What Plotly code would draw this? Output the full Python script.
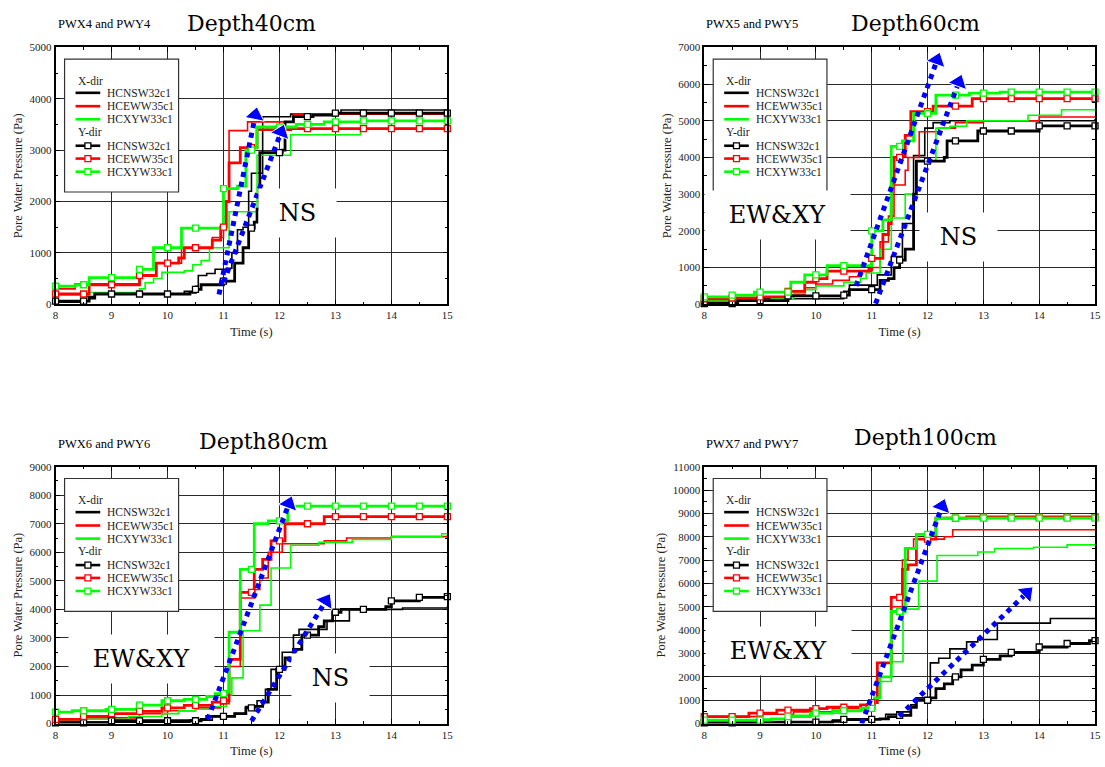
import numpy as np
import plotly.graph_objects as go

# ---------------- chart text / categories ----------------
panel_codes = ["PWX4 and PWY4", "PWX5 and PWY5", "PWX6 and PWY6", "PWX7 and PWY7"]
panel_depths = ["Depth40cm", "Depth60cm", "Depth80cm", "Depth100cm"]
pressure_max = [5000, 7000, 9000, 11000]
series_labels = ["HCNSW32c1", "HCEWW35c1", "HCXYW33c1"]
dir_labels = ["X-dir", "Y-dir"]
marker_times = [8.0, 8.5, 9.0, 9.5, 10.0, 10.5, 11.0, 11.5, 12.0, 12.5, 13.0, 13.5, 14.0, 14.5, 15.0]

# ---------------- Depth 40 cm ----------------
d40_x_ns_t = [8, 8.55, 8.7, 10.3, 10.5, 10.55, 10.7, 10.85, 11.05, 11.15, 11.25, 11.35, 11.45, 11.5, 11.7, 12.2, 13.1, 15]
d40_x_ns_p = [40, 150, 200, 250, 350, 560, 600, 680, 700, 1000, 1450, 1500, 2200, 2550, 3650, 3700, 3780, 3780]
d40_x_ew_t = [8, 8.35, 9.5, 9.8, 10.25, 10.8, 10.95, 11.0, 11.05, 11.1, 11.43, 12.25, 15]
d40_x_ew_p = [300, 400, 560, 800, 1100, 1300, 1300, 1700, 2000, 3380, 3550, 3700, 3750]
d40_x_xy_t = [8, 8.6, 9.5, 9.6, 9.75, 9.9, 10.3, 10.45, 10.6, 10.75, 11.1, 11.6, 12.2, 13.45, 15]
d40_x_xy_p = [180, 230, 300, 420, 500, 620, 650, 770, 850, 1100, 1800, 2900, 3300, 3420, 3420]
d40_y_ns_t = [8, 8.6, 8.7, 10.4, 10.5, 10.6, 11.0, 11.2, 11.35, 11.45, 11.55, 11.6, 11.65, 12.05, 12.1, 12.25, 12.6, 13.0, 15]
d40_y_ns_p = [60, 120, 200, 230, 290, 380, 450, 800, 1100, 1480, 1600, 1850, 2950, 3000, 3550, 3650, 3680, 3720, 3720]
d40_y_ew_t = [8, 8.6, 9.5, 9.8, 10.2, 10.3, 10.8, 10.95, 11.05, 11.1, 11.3, 11.6, 12.2, 15]
d40_y_ew_p = [200, 380, 560, 800, 900, 1100, 1250, 1500, 2000, 2750, 3050, 3400, 3420, 3420]
d40_y_xy_t = [8, 8.35, 8.6, 9.5, 9.75, 10.25, 11.0, 11.25, 11.4, 11.55, 11.6, 12.3, 12.8, 13.5, 15]
d40_y_xy_p = [350, 380, 520, 680, 1100, 1480, 2250, 2300, 3000, 3050, 3450, 3500, 3550, 3570, 3570]

# ---------------- Depth 60 cm ----------------
d60_x_ns_t = [8, 8.6, 10.5, 10.6, 11.1, 11.35, 11.55, 11.75, 11.95, 12.1, 12.4, 15]
d60_x_ns_p = [50, 150, 350, 520, 800, 1300, 2200, 4050, 4800, 4950, 5000, 5050]
d60_x_ew_t = [8, 9.5, 9.8, 10.0, 10.3, 10.6, 10.8, 11.0, 11.15, 11.3, 11.4, 11.6, 11.65, 11.85, 12.2, 12.5, 13.0, 14.0, 15]
d60_x_ew_p = [100, 250, 450, 550, 650, 750, 900, 1000, 1700, 2400, 3250, 3650, 4000, 4700, 4800, 4950, 5000, 5100, 5100]
d60_x_xy_t = [8, 9.2, 9.6, 9.8, 10.0, 10.5, 10.8, 10.9, 11.15, 11.35, 11.6, 11.8, 12.15, 12.4, 12.7, 13.8, 14.4, 15]
d60_x_xy_p = [100, 150, 300, 400, 500, 600, 700, 850, 1500, 2350, 3000, 3900, 4800, 4850, 5000, 5150, 5300, 5300]
d60_y_ns_t = [8, 8.6, 9.5, 10.5, 10.6, 11.15, 11.3, 11.4, 11.5, 11.6, 11.75, 11.8, 12.3, 12.35, 12.9, 14.0, 15]
d60_y_ns_p = [20, 100, 230, 250, 400, 650, 700, 1000, 1200, 1500, 3000, 3900, 4000, 4450, 4720, 4860, 4860]
d60_y_ew_t = [8, 8.5, 9.0, 9.5, 9.8, 10.0, 10.2, 10.95, 11.0, 11.2, 11.3, 11.35, 11.4, 11.55, 11.6, 11.7, 12.1, 12.8, 15]
d60_y_ew_p = [150, 170, 200, 350, 600, 700, 900, 950, 1250, 1900, 2200, 3300, 4000, 4050, 4600, 5250, 5400, 5600, 5600]
d60_y_xy_t = [8, 8.5, 8.9, 9.55, 9.8, 10.2, 11.0, 11.2, 11.35, 11.55, 11.75, 12.15, 12.75, 13.3, 15]
d60_y_xy_p = [200, 250, 330, 600, 800, 1050, 2000, 2300, 4300, 4450, 5200, 5700, 5750, 5780, 5780]

# ---------------- Depth 80 cm ----------------
d80_x_ns_t = [8, 10.4, 10.8, 11.2, 11.4, 11.6, 11.75, 11.85, 12.05, 12.25, 12.35, 12.85, 13.25, 14.2, 15]
d80_x_ns_p = [50, 120, 250, 350, 600, 800, 1200, 1900, 2500, 3100, 3300, 3600, 4000, 4050, 4100]
d80_x_ew_t = [8, 8.5, 9.5, 10.0, 10.5, 10.95, 11.1, 11.3, 11.55, 11.65, 11.8, 12.05, 12.8, 13.2, 14.0, 15]
d80_x_ew_p = [100, 200, 350, 450, 550, 700, 2000, 4400, 4700, 5100, 6000, 6300, 6400, 6500, 6550, 6600]
d80_x_xy_t = [8, 8.5, 9.3, 9.9, 10.2, 10.5, 10.8, 11.05, 11.15, 11.35, 11.65, 11.85, 12.2, 12.7, 13.3, 14.0, 14.9, 15]
d80_x_xy_p = [100, 150, 250, 350, 450, 500, 600, 1000, 1600, 3250, 4150, 5450, 6250, 6350, 6450, 6550, 6650, 6650]
d80_y_ns_t = [8, 9.0, 10.6, 10.7, 11.2, 11.4, 11.55, 11.7, 11.8, 11.95, 12.1, 12.25, 12.4, 12.7, 12.8, 12.95, 13.1, 13.9, 14.0, 14.5, 15]
d80_y_ns_p = [30, 100, 150, 250, 350, 550, 600, 750, 1200, 1900, 2300, 2600, 3100, 3400, 3600, 3900, 4000, 4100, 4300, 4420, 4450]
d80_y_ew_t = [8, 8.5, 9.0, 9.5, 9.9, 10.3, 10.8, 11.0, 11.1, 11.3, 11.55, 11.7, 11.85, 12.1, 12.8, 15]
d80_y_ew_p = [150, 250, 350, 430, 550, 640, 750, 800, 2250, 4600, 5400, 5750, 6400, 7000, 7250, 7250]
d80_y_xy_t = [8, 8.3, 8.9, 9.5, 9.9, 10.3, 10.7, 10.85, 11.05, 11.1, 11.3, 11.55, 11.8, 12.15, 15]
d80_y_xy_p = [400, 450, 500, 650, 800, 850, 950, 1050, 1100, 3200, 5400, 7000, 7100, 7620, 7620]

# ---------------- Depth 100 cm ----------------
d100_x_ns_t = [8, 10.3, 11.0, 11.25, 11.45, 11.7, 11.8, 12.05, 12.2, 12.4, 12.7, 12.9, 13.25, 14.2, 15]
d100_x_ns_p = [50, 150, 200, 400, 500, 800, 1100, 2600, 2800, 3200, 3500, 3600, 4300, 4500, 4500]
d100_x_ew_t = [8, 9.0, 9.6, 10.3, 10.9, 11.0, 11.1, 11.35, 11.55, 11.65, 11.75, 12.3, 12.45, 15]
d100_x_ew_p = [300, 400, 500, 650, 800, 900, 2600, 5000, 7000, 7500, 7900, 8000, 8300, 8300]
d100_x_xy_t = [8, 9.0, 9.5, 10.0, 10.5, 10.9, 11.05, 11.1, 11.35, 11.56, 11.84, 12.17, 12.9, 13.2, 13.9, 14.5, 15]
d100_x_xy_p = [100, 200, 350, 450, 550, 700, 900, 1800, 2650, 4900, 6100, 7200, 7350, 7500, 7550, 7650, 7700]
d100_y_ns_t = [8, 9.0, 10.3, 10.5, 11.15, 11.3, 11.5, 11.7, 11.8, 12.05, 12.15, 12.3, 12.45, 12.6, 12.8, 13.0, 13.3, 13.5, 14.0, 14.5, 14.9, 15]
d100_y_ns_p = [30, 60, 100, 180, 200, 300, 350, 700, 1000, 1100, 1500, 1700, 2000, 2300, 2500, 2750, 2900, 3050, 3280, 3430, 3550, 3550]
d100_y_ew_t = [8, 8.8, 9.3, 9.9, 10.2, 10.8, 11.0, 11.1, 11.35, 11.55, 11.65, 11.8, 12.15, 12.7, 15]
d100_y_ew_p = [300, 450, 580, 640, 700, 800, 900, 2600, 5400, 6600, 6800, 7900, 8800, 8850, 8850]
d100_y_xy_t = [8, 9.2, 9.5, 9.9, 10.3, 10.8, 11.05, 11.15, 11.35, 11.6, 11.8, 12.15, 15]
d100_y_xy_p = [150, 200, 300, 450, 550, 650, 1100, 2000, 4800, 7500, 8100, 8800, 8800]

# ---------------- trend arrows (t0, p0, t1, p1) ----------------
d40_arrows = [(10.92, 190, 11.57, 3680), (11.0, 430, 12.03, 3350)]
d60_arrows = [(10.72, 500, 12.17, 6650), (11.07, 20, 12.56, 6050)]
d80_arrows = [(10.72, 150, 12.17, 7700), (11.5, 90, 12.83, 4300)]
d100_arrows = [(10.82, 0, 12.26, 9300), (11.49, 320, 13.78, 5600)]

# ---------------- annotation labels (text, t, p) ----------------
d40_labels = [("NS", 12.33, 1780)]
d60_labels = [("EW&XY", 9.31, 2440), ("NS", 12.56, 1820)]
d80_labels = [("EW&XY", 9.53, 2280), ("NS", 12.92, 1590)]
d100_labels = [("EW&XY", 9.33, 3120)]

# ---------------- styling ----------------
W, H = 1105, 767
COLORS = ["#000000", "#ff0000", "#00ff00"]
SERIF = "Liberation Serif"
BIG = "DejaVu Serif"

panels = [
    dict(x=[d40_x_ns_t, d40_x_ew_t, d40_x_xy_t], xp=[d40_x_ns_p, d40_x_ew_p, d40_x_xy_p],
         y=[d40_y_ns_t, d40_y_ew_t, d40_y_xy_t], yp=[d40_y_ns_p, d40_y_ew_p, d40_y_xy_p],
         arrows=d40_arrows, labels=d40_labels),
    dict(x=[d60_x_ns_t, d60_x_ew_t, d60_x_xy_t], xp=[d60_x_ns_p, d60_x_ew_p, d60_x_xy_p],
         y=[d60_y_ns_t, d60_y_ew_t, d60_y_xy_t], yp=[d60_y_ns_p, d60_y_ew_p, d60_y_xy_p],
         arrows=d60_arrows, labels=d60_labels),
    dict(x=[d80_x_ns_t, d80_x_ew_t, d80_x_xy_t], xp=[d80_x_ns_p, d80_x_ew_p, d80_x_xy_p],
         y=[d80_y_ns_t, d80_y_ew_t, d80_y_xy_t], yp=[d80_y_ns_p, d80_y_ew_p, d80_y_xy_p],
         arrows=d80_arrows, labels=d80_labels),
    dict(x=[d100_x_ns_t, d100_x_ew_t, d100_x_xy_t], xp=[d100_x_ns_p, d100_x_ew_p, d100_x_xy_p],
         y=[d100_y_ns_t, d100_y_ew_t, d100_y_xy_t], yp=[d100_y_ns_p, d100_y_ew_p, d100_y_xy_p],
         arrows=d100_arrows, labels=d100_labels),
]

# pixel layout of the four plot areas (left, right, top, bottom)
areas = [(53, 448, 42, 303), (707, 1101, 42, 303), (53, 448, 468, 729), (707, 1101, 468, 729)]
code_pos = [(53, 18), (707, 18), (53, 445), (707, 445)]
depth_pos = [(183, 18), (853, 18), (196, 442), (856, 438)]


def step_value(ts, ps, t):
    i = np.searchsorted(np.asarray(ts, float), t, side="right") - 1
    return ps[max(i, 0)]


fig = go.Figure()
layout = dict(width=W, height=H, margin=dict(l=0, r=0, t=0, b=0),
              paper_bgcolor="white", plot_bgcolor="white", showlegend=False,
              font=dict(family=SERIF))
annotations = []
shapes = []

for k, pan in enumerate(panels):
    sfx = "" if k == 0 else str(k + 1)
    xa, ya = "x" + sfx, "y" + sfx
    l, r, t, b = areas[k]
    layout["xaxis" + sfx] = dict(
        domain=[l / W, r / W], anchor=ya, range=[8, 15], tick0=8, dtick=1,
        showgrid=True, gridcolor="#2a2a2a", gridwidth=1, zeroline=False,
        showline=True, linecolor="black", linewidth=1.5, mirror="ticks",
        ticks="inside", ticklen=5, tickcolor="black",
        minor=dict(dtick=0.5, ticklen=3, tickcolor="black", ticks="inside", showgrid=False),
        tickfont=dict(family=SERIF, size=11, color="#222"),
        title=dict(text="Time (s)", font=dict(family=SERIF, size=12.5, color="#222"), standoff=7),
    )
    layout["yaxis" + sfx] = dict(
        domain=[1 - b / H, 1 - t / H], anchor=xa, range=[0, pressure_max[k]], tick0=0, dtick=1000,
        tickformat="d",
        showgrid=True, gridcolor="#2a2a2a", gridwidth=1, zeroline=False,
        showline=True, linecolor="black", linewidth=1.5, mirror="ticks",
        ticks="inside", ticklen=5, tickcolor="black",
        minor=dict(dtick=500, ticklen=3, tickcolor="black", ticks="inside", showgrid=False),
        tickfont=dict(family=SERIF, size=11, color="#222"),
        title=dict(text="Pore Water Pressure (Pa)", font=dict(family=SERIF, size=12.5, color="#222"), standoff=4),
    )

    # X-dir lines (thin)
    for j in range(3):
        fig.add_trace(go.Scatter(x=pan["x"][j], y=pan["xp"][j], mode="lines", line_shape="hv",
                                 line=dict(color=COLORS[j], width=1.6), xaxis=xa, yaxis=ya,
                                 name=series_labels[j] + " " + dir_labels[0]))
    # Y-dir lines (thick)
    for j in range(3):
        fig.add_trace(go.Scatter(x=pan["y"][j], y=pan["yp"][j], mode="lines", line_shape="hv",
                                 line=dict(color=COLORS[j], width=2.8), xaxis=xa, yaxis=ya,
                                 name=series_labels[j] + " " + dir_labels[1]))
    # Y-dir open square markers every 0.5 s
    for j in range(3):
        mv = [step_value(pan["y"][j], pan["yp"][j], mt) for mt in marker_times]
        fig.add_trace(go.Scatter(x=marker_times, y=mv, mode="markers", cliponaxis=False,
                                 marker=dict(symbol="square", size=6, color="white",
                                             line=dict(color=COLORS[j], width=1.3)),
                                 xaxis=xa, yaxis=ya, hoverinfo="skip"))
    # blue dotted trend arrows
    for (t0, p0, t1, p1) in pan["arrows"]:
        fig.add_trace(go.Scatter(x=[t0, t1], y=[p0, p1], mode="lines+markers", cliponaxis=False,
                                 line=dict(color="#0000ff", width=5, dash="dot"),
                                 marker=dict(symbol="triangle-up", size=[0, 17], angleref="previous",
                                             color="#0000ff", opacity=[0, 1]),
                                 xaxis=xa, yaxis=ya, hoverinfo="skip"))
    # big region labels with white box
    for (txt, tx, py) in pan["labels"]:
        annotations.append(dict(x=tx, y=py, xref=xa, yref=ya, text=txt, showarrow=False,
                                font=dict(family=BIG, size=24, color="black"),
                                bgcolor="white", borderpad=0,
                                width=145 if len(txt) > 2 else 77, height=48))

    # titles
    cx, cy = code_pos[k]
    annotations.append(dict(x=cx / W, y=1 - cy / H, xref="paper", yref="paper", xanchor="left",
                            yanchor="middle", text=panel_codes[k], showarrow=False,
                            font=dict(family=SERIF, size=12.5, color="black")))
    dx, dy = depth_pos[k]
    annotations.append(dict(x=dx / W, y=1 - dy / H, xref="paper", yref="paper", xanchor="left",
                            yanchor="middle", text=panel_depths[k], showarrow=False,
                            font=dict(family=BIG, size=22, color="black")))

    # legend box (drawn in subplot domain coordinates)
    xr, yr = xa + " domain", ya + " domain"
    shapes.append(dict(type="rect", xref=xr, yref=yr, x0=0.023, x1=0.314, y0=0.437, y1=0.954,
                       fillcolor="white", line=dict(color="#333", width=1.2), layer="above"))
    rows = [[0.823, 0.771, 0.720], [0.617, 0.567, 0.516]]
    heads = [0.870, 0.670]
    for d in range(2):
        annotations.append(dict(x=0.051, y=heads[d], xref=xr, yref=yr, xanchor="left", yanchor="middle",
                                text=dir_labels[d], showarrow=False,
                                font=dict(family=SERIF, size=11.5, color="#222")))
        for j in range(3):
            yy = rows[d][j]
            shapes.append(dict(type="line", xref=xr, yref=yr, x0=0.051, x1=0.114, y0=yy, y1=yy,
                               line=dict(color=COLORS[j], width=2.6), layer="above"))
            if d == 1:
                shapes.append(dict(type="rect", xref=xr, yref=yr, x0=0.0825 - 0.0076, x1=0.0825 + 0.0076,
                                   y0=yy - 0.0115, y1=yy + 0.0115, fillcolor="white",
                                   line=dict(color=COLORS[j], width=1.3), layer="above"))
            annotations.append(dict(x=0.127, y=yy, xref=xr, yref=yr, xanchor="left", yanchor="middle",
                                    text=series_labels[j], showarrow=False,
                                    font=dict(family=SERIF, size=11.5, color="#222")))

layout["annotations"] = annotations
layout["shapes"] = shapes
fig.update_layout(**layout)
fig.write_html("out.html")
